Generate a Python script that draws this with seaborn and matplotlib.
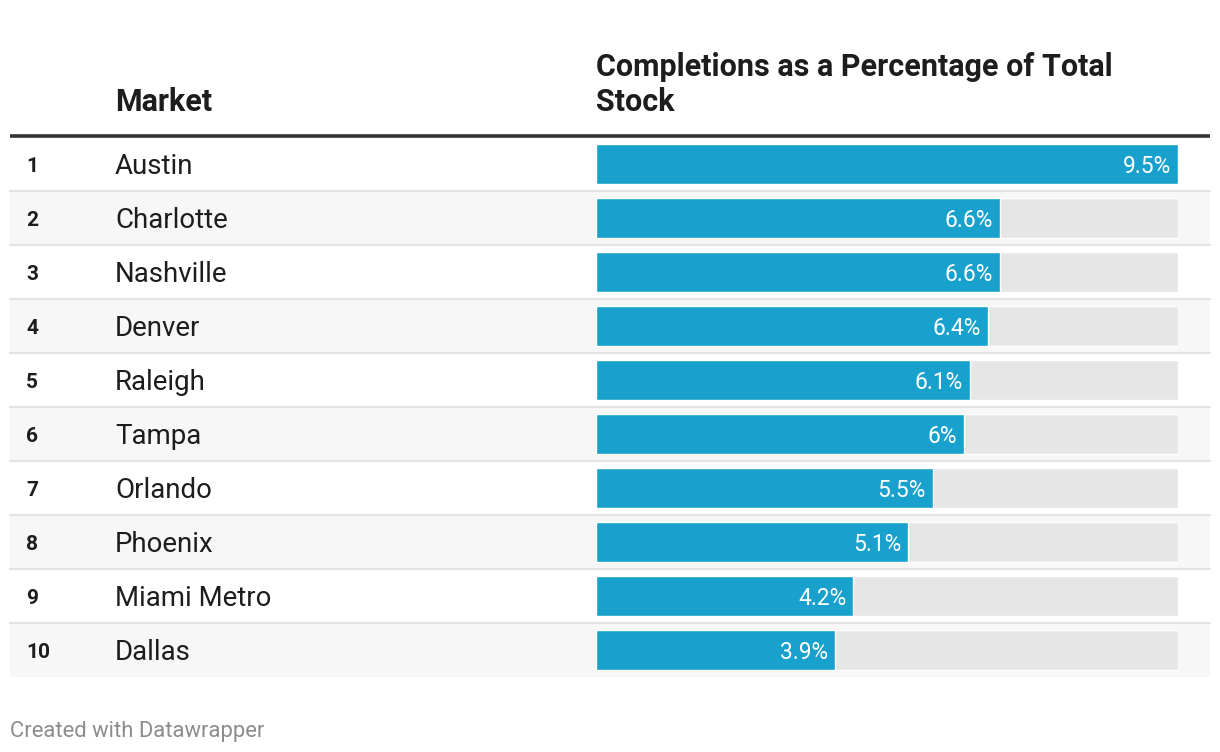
import matplotlib
matplotlib.use("Agg")
import matplotlib.pyplot as plt
import seaborn as sns
import pandas as pd

# table data
ranks = [1, 2, 3, 4, 5, 6, 7, 8, 9, 10]
markets = ["Austin", "Charlotte", "Nashville", "Denver", "Raleigh",
           "Tampa", "Orlando", "Phoenix", "Miami Metro", "Dallas"]
completions = [9.5, 6.6, 6.6, 6.4, 6.1, 6.0, 5.5, 5.1, 4.2, 3.9]
col_market = "Market"
col_value = ["Completions as a Percentage of Total", "Stock"]
footer = "Created with Datawrapper"

sns.set_theme(style="white")
plt.rcParams['font.family'] = ['Roboto', 'DejaVu Sans']

BAR = "#18a1cd"
TRACK = "#e6e6e6"
BAND = "#f7f7f7"
TXT = "#1d1d1d"

df = pd.DataFrame({'rank': ranks, 'market': markets, 'value': completions})
df['track'] = df['value'].max()
n = len(df)

W, H = 1220, 752
fig = plt.figure(figsize=(W / 100, H / 100), dpi=100)
fig.patch.set_facecolor("white")

# background layer in pixel coordinates
bg = fig.add_axes([0, 0, 1, 1])
bg.set_xlim(0, W)
bg.set_ylim(H, 0)
bg.axis('off')

top, row_h = 137, 54
left, right = 10, 1210
for i in range(n):
    y0 = top + i * row_h
    if i % 2 == 1:
        bg.fill_between([left, right], y0, y0 + row_h, color=BAND, lw=0, zorder=0)
    if i > 0:
        bg.plot([left, right], [y0, y0], color="#e3e3e3", lw=1.5, zorder=1)
bg.plot([left, right], [135.5, 135.5], color="#333333", lw=2.6, zorder=2,
        solid_capstyle='butt')

for i, row in df.iterrows():
    yb = top + i * row_h + row_h / 2
    bg.text(26, yb + 7.5, str(row['rank']), fontsize=15, fontweight='bold',
            color=TXT, va='baseline', ha='left')
    bg.text(115, yb + 10.5, row['market'], fontsize=19.9, color=TXT,
            va='baseline', ha='left')

bg.text(115, 111, col_market, fontsize=22, fontweight='bold', color=TXT,
        va='baseline')
bg.text(596, 76, col_value[0], fontsize=22, fontweight='bold', color=TXT,
        va='baseline')
bg.text(596, 111, col_value[1], fontsize=22, fontweight='bold', color=TXT,
        va='baseline')
bg.text(10, 737, footer, fontsize=15.8, color="#8c8c8c", va='baseline')

# bar column
bx0, bx1 = 596, 1178
ax = fig.add_axes([bx0 / W, 1 - (top + n * row_h) / H, (bx1 - bx0) / W, n * row_h / H])
ax.patch.set_alpha(0)
sns.barplot(data=df, x='track', y='market', orient='h', color=TRACK,
            saturation=1, width=40 / 54, ax=ax)
sns.barplot(data=df, x='value', y='market', orient='h', color=BAR,
            saturation=1, width=40 / 54, ax=ax)
ax.set_xlim(0, df['track'].max())
ax.set_ylim(n - 0.5, -0.5)
ax.axis('off')

for i, row in df.iterrows():
    ax.annotate(f"{row['value']:g}%", xy=(row['value'], i), xytext=(-7, 0),
                textcoords='offset pixels', ha='right', va='center_baseline',
                color='white', fontsize=16.4)

fig.savefig("out.png", dpi=100, facecolor="white")
